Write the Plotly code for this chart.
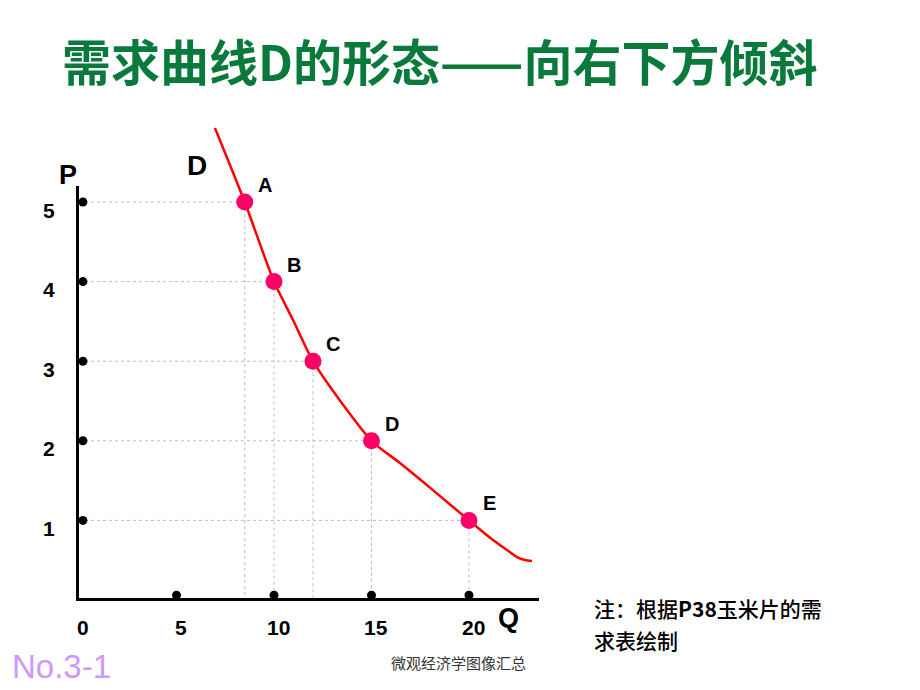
import plotly.graph_objects as go

# ---------------- data ----------------
point_labels = ["A", "B", "C", "D", "E"]
price = [5, 4, 3, 2, 1]
quantity = [8.5, 10, 12, 15, 20]

curve_q = [6.97, 8.5, 10, 10.97, 12, 13.49, 15, 16.46, 18.15, 20, 21.23, 21.95, 22.46, 22.87, 23.23]
curve_p = [5.93, 5, 4, 3.52, 3, 2.47, 2, 1.72, 1.38, 1, 0.754, 0.628, 0.54, 0.503, 0.49]

q_ticks = [0, 5, 10, 15, 20]
p_ticks = [5, 4, 3, 2, 1]

title_text = "需求曲线D的形态——向右下方倾斜"
note_line1 = "注：根据<b>P38</b>玉米片的需"
note_line2 = "求表绘制"
footer_left = "No.3-1"
footer_mid = "微观经济学图像汇总"

# ---------------- geometry helpers (pixel <-> data) ----------------
W, H = 920, 690
PX_PER_Q = 19.5
PX_PER_P = 79.6
X0_PX = 79      # Q = 0
Y0_PX = 600     # P = 0

x_range = [(0 - X0_PX) / PX_PER_Q, (W - X0_PX) / PX_PER_Q]
y_range = [(Y0_PX - H) / PX_PER_P, (Y0_PX - 0) / PX_PER_P]

LABEL_FONT = "Liberation Sans, Arial, sans-serif"
CJK_FONT = "Noto Sans CJK SC, sans-serif"

fig = go.Figure()

# dotted guide lines from each point to the axes
gx, gy = [], []
for q, p in zip(quantity, price):
    gx += [0, q, None, q, q, None]
    gy += [p, p, None, p, 0, None]
fig.add_trace(go.Scatter(x=gx, y=gy, mode="lines",
                         line=dict(color="#bcbcbc", width=1, dash="dot"),
                         hoverinfo="skip", showlegend=False))

# demand curve
fig.add_trace(go.Scatter(x=curve_q, y=curve_p, mode="lines",
                         line=dict(color="#ff0000", width=2.5, shape="spline", smoothing=0.7),
                         hoverinfo="skip", showlegend=False))

# points A..E
fig.add_trace(go.Scatter(x=quantity, y=price, mode="markers",
                         marker=dict(color="#ff0066", size=17),
                         hoverinfo="skip", showlegend=False, cliponaxis=False))

# tick dots on axes
fig.add_trace(go.Scatter(x=[0.2] * len(p_ticks), y=p_ticks, mode="markers",
                         marker=dict(color="black", size=9),
                         hoverinfo="skip", showlegend=False, cliponaxis=False))
fig.add_trace(go.Scatter(x=q_ticks[1:], y=[0.06] * (len(q_ticks) - 1), mode="markers",
                         marker=dict(color="black", size=9),
                         hoverinfo="skip", showlegend=False, cliponaxis=False))

# invisible trace on the frame axes so the subplot exists
fig.add_trace(go.Scatter(x=[0], y=[0], xaxis="x2", yaxis="y2", mode="markers",
                         marker=dict(opacity=0), hoverinfo="skip", showlegend=False))

annotations = []

# point labels
for lab, q, p in zip(point_labels, quantity, price):
    annotations.append(dict(x=q, y=p, xref="x", yref="y", text="<b>%s</b>" % lab,
                            showarrow=False, xshift=20, yshift=17,
                            font=dict(family=LABEL_FONT, size=20, color="black")))

# x tick labels
for q in q_ticks:
    annotations.append(dict(x=q, y=0, xref="x", yref="y", text="<b>%d</b>" % q,
                            showarrow=False, xshift=4, yshift=-27,
                            font=dict(family=LABEL_FONT, size=21, color="black")))
# y tick labels
for p in p_ticks:
    annotations.append(dict(x=0, y=p, xref="x", yref="y", text="<b>%d</b>" % p,
                            showarrow=False, xshift=-30, yshift=-8,
                            font=dict(family=LABEL_FONT, size=21, color="black")))

# axis names and curve name
annotations.append(dict(x=0, y=5.2, xref="x", yref="y", text="<b>P</b>", showarrow=False,
                        xshift=-11, yshift=11, font=dict(family=LABEL_FONT, size=27, color="black")))
annotations.append(dict(x=23.6, y=0, xref="x", yref="y", text="<b>Q</b>", showarrow=False,
                        xshift=-31, yshift=-18, font=dict(family=LABEL_FONT, size=27, color="black")))
annotations.append(dict(x=curve_q[0], y=curve_p[0], xref="x", yref="y", text="<b>D</b>",
                        showarrow=False, xshift=-18, yshift=-38,
                        font=dict(family=LABEL_FONT, size=28, color="black")))

# title
annotations.append(dict(x=439 / W, y=1 - 60 / H, xref="paper", yref="paper",
                        text="<b>%s</b>" % title_text, showarrow=False,
                        xanchor="center", yanchor="middle",
                        font=dict(family=CJK_FONT, size=49, color="#0a7a3c")))
# note
annotations.append(dict(x=592 / W, y=1 - 608 / H, xref="paper", yref="paper",
                        text=note_line1, showarrow=False, xanchor="left", yanchor="middle",
                        font=dict(family=CJK_FONT, size=21, color="black", weight=500)))
annotations.append(dict(x=592 / W, y=1 - 640 / H, xref="paper", yref="paper",
                        text=note_line2, showarrow=False, xanchor="left", yanchor="middle",
                        font=dict(family=CJK_FONT, size=21, color="black", weight=500)))
# footers
annotations.append(dict(x=10 / W, y=1 - 666 / H, xref="paper", yref="paper",
                        text=footer_left, showarrow=False, xanchor="left", yanchor="middle",
                        font=dict(family=LABEL_FONT, size=33, color="#cc99ff")))
annotations.append(dict(x=458 / W, y=1 - 662 / H, xref="paper", yref="paper",
                        text=footer_mid, showarrow=False, xanchor="center", yanchor="middle",
                        font=dict(family=CJK_FONT, size=15, color="#333333")))

# frame axes (the drawn P and Q axis lines)
frame_left, frame_right = 79, 539
frame_top, frame_bottom = 186, 598

fig.update_layout(
    width=W, height=H, autosize=False,
    margin=dict(l=0, r=0, t=0, b=0, pad=0),
    paper_bgcolor="white", plot_bgcolor="rgba(0,0,0,0)",
    xaxis=dict(range=x_range, domain=[0, 1], visible=False, fixedrange=True),
    yaxis=dict(range=y_range, domain=[0, 1], visible=False, fixedrange=True),
    xaxis2=dict(domain=[frame_left / W, frame_right / W], anchor="y2",
                range=[0, 1], showline=True, linecolor="black", linewidth=3,
                showgrid=False, zeroline=False, showticklabels=False, ticks=""),
    yaxis2=dict(domain=[1 - frame_bottom / H, 1 - frame_top / H], anchor="x2",
                range=[0, 1], showline=True, linecolor="black", linewidth=3,
                showgrid=False, zeroline=False, showticklabels=False, ticks=""),
    annotations=annotations,
    showlegend=False,
)

fig.write_html("out.html")
